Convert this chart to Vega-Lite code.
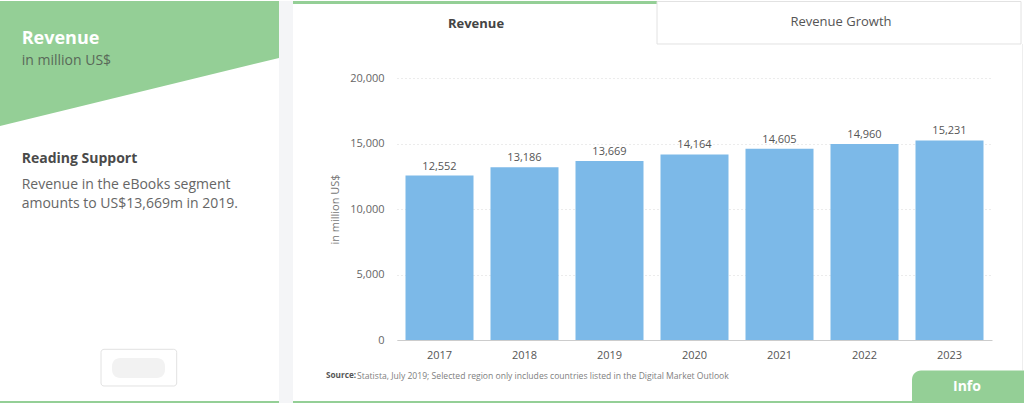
{
  "$schema": "https://vega.github.io/schema/vega-lite/v6.json",
  "background": "white",
  "padding": 0,
  "spacing": 0,
  "config": {"view": {"stroke": null}, "font": "Open Sans"},
  "hconcat": [
    {
      "width": 293,
      "height": 262,
      "data": {"values": [{}]},
      "layer": [
        {"mark": {"type": "rect", "color": "#f4f5f7"},
         "encoding": {
           "x": {"datum": 95.222, "type": "quantitative", "scale": {"domain": [0, 100], "nice": false, "zero": false}, "axis": null},
           "x2": {"datum": 100},
           "y": {"datum": 0, "type": "quantitative", "scale": {"domain": [19.107, 84.119], "nice": false, "zero": false, "reverse": true}, "axis": null},
           "y2": {"datum": 100}}},
        {"mark": {"type": "rect", "color": "white"},
         "encoding": {
           "x": {"datum": 0, "type": "quantitative", "scale": {"domain": [0, 100], "nice": false, "zero": false}, "axis": null},
           "x2": {"datum": 95.222},
           "y": {"datum": 0, "type": "quantitative", "scale": {"domain": [19.107, 84.119], "nice": false, "zero": false, "reverse": true}, "axis": null},
           "y2": {"datum": 99.256}}},
        {"mark": {"type": "point", "shape": "M-139.5,-200L139.5,-200L139.5,-143L-139.5,-75Z", "size": 4, "filled": true, "color": "#94cf96", "opacity": 1, "strokeWidth": 0},
         "encoding": {
           "x": {"datum": 47.611, "type": "quantitative", "scale": {"domain": [0, 100], "nice": false, "zero": false}, "axis": null},
           "y": {"datum": 49.628, "type": "quantitative", "scale": {"domain": [19.107, 84.119], "nice": false, "zero": false, "reverse": true}, "axis": null}}},
        {"mark": {"type": "rect", "color": "#94cf96"},
         "encoding": {
           "x": {"datum": 0, "type": "quantitative", "scale": {"domain": [0, 100], "nice": false, "zero": false}, "axis": null},
           "x2": {"datum": 95.222},
           "y": {"datum": 99.256, "type": "quantitative", "scale": {"domain": [19.107, 84.119], "nice": false, "zero": false, "reverse": true}, "axis": null},
           "y2": {"datum": 100}}},
        {"mark": {"type": "text", "text": "Revenue", "align": "left", "baseline": "alphabetic", "fontSize": 18, "fontWeight": "bold", "color": "white"},
         "encoding": {
           "x": {"datum": 7.4, "type": "quantitative", "scale": {"domain": [0, 100], "nice": false, "zero": false}, "axis": null},
           "y": {"datum": 10.67, "type": "quantitative", "scale": {"domain": [19.107, 84.119], "nice": false, "zero": false, "reverse": true}, "axis": null}}},
        {"mark": {"type": "text", "text": "in million US$", "align": "left", "baseline": "alphabetic", "fontSize": 14, "color": "#596959"},
         "encoding": {
           "x": {"datum": 7.4, "type": "quantitative", "scale": {"domain": [0, 100], "nice": false, "zero": false}, "axis": null},
           "y": {"datum": 15.881, "type": "quantitative", "scale": {"domain": [19.107, 84.119], "nice": false, "zero": false, "reverse": true}, "axis": null}}},
        {"mark": {"type": "text", "text": "Reading Support", "align": "left", "baseline": "alphabetic", "fontSize": 14, "fontWeight": "bold", "color": "#4a4a4a"},
         "encoding": {
           "x": {"datum": 7.4, "type": "quantitative", "scale": {"domain": [0, 100], "nice": false, "zero": false}, "axis": null},
           "y": {"datum": 40.199, "type": "quantitative", "scale": {"domain": [19.107, 84.119], "nice": false, "zero": false, "reverse": true}, "axis": null}}},
        {"mark": {"type": "text", "text": ["Revenue in the eBooks segment", "amounts to US$13,669m in 2019."], "lineHeight": 19, "align": "left", "baseline": "alphabetic", "fontSize": 14, "color": "#666666"},
         "encoding": {
           "x": {"datum": 7.4, "type": "quantitative", "scale": {"domain": [0, 100], "nice": false, "zero": false}, "axis": null},
           "y": {"datum": 46.65, "type": "quantitative", "scale": {"domain": [19.107, 84.119], "nice": false, "zero": false, "reverse": true}, "axis": null}}},
        {"mark": {"type": "rect", "fill": "white", "stroke": "#e2e2e2", "strokeWidth": 1, "cornerRadius": 3},
         "encoding": {
           "x": {"datum": 34.471, "type": "quantitative", "scale": {"domain": [0, 100], "nice": false, "zero": false}, "axis": null},
           "x2": {"datum": 60.307},
           "y": {"datum": 86.427, "type": "quantitative", "scale": {"domain": [19.107, 84.119], "nice": false, "zero": false, "reverse": true}, "axis": null},
           "y2": {"datum": 95.533}}},
        {"mark": {"type": "rect", "color": "#f1f1f1", "cornerRadius": 8, "opacity": 0.9},
         "encoding": {
           "x": {"datum": 38.225, "type": "quantitative", "scale": {"domain": [0, 100], "nice": false, "zero": false}, "axis": null},
           "x2": {"datum": 56.314},
           "y": {"datum": 88.586, "type": "quantitative", "scale": {"domain": [19.107, 84.119], "nice": false, "zero": false, "reverse": true}, "axis": null},
           "y2": {"datum": 93.548}}}
      ]
    },
    {
      "width": 595,
      "height": 262,
      "layer": [
        {
          "data": {"values": [{}]},
          "layer": [
            {"mark": {"type": "rect", "color": "#94cf96"},
             "encoding": {
               "x": {"datum": 0, "type": "quantitative", "scale": {"domain": [14.227, 95.622], "nice": false, "zero": false}, "axis": null},
               "x2": {"datum": 49.795},
               "y": {"datum": 0, "type": "quantitative", "scale": {"domain": [19.107, 84.119], "nice": false, "zero": false, "reverse": true}, "axis": null},
               "y2": {"datum": 0.744}}},
            {"mark": {"type": "rect", "fill": "white", "stroke": "#e2e2e2", "strokeWidth": 1},
             "encoding": {
               "x": {"datum": 49.795, "type": "quantitative", "scale": {"domain": [14.227, 95.622], "nice": false, "zero": false}, "axis": null},
               "x2": {"datum": 99.59},
               "y": {"datum": 0.124, "type": "quantitative", "scale": {"domain": [19.107, 84.119], "nice": false, "zero": false, "reverse": true}, "axis": null},
               "y2": {"datum": 10.67}}},
            {"mark": {"type": "rect", "color": "#eeeeee"},
             "encoding": {
               "x": {"datum": 99.726, "type": "quantitative", "scale": {"domain": [14.227, 95.622], "nice": false, "zero": false}, "axis": null},
               "x2": {"datum": 99.863},
               "y": {"datum": 10.67, "type": "quantitative", "scale": {"domain": [19.107, 84.119], "nice": false, "zero": false, "reverse": true}, "axis": null},
               "y2": {"datum": 91.687}}},
            {"mark": {"type": "text", "text": "Revenue", "align": "center", "baseline": "middle", "fontSize": 13, "fontWeight": "bold", "color": "#444444"},
             "encoding": {
               "x": {"datum": 25.034, "type": "quantitative", "scale": {"domain": [14.227, 95.622], "nice": false, "zero": false}, "axis": null},
               "y": {"datum": 5.707, "type": "quantitative", "scale": {"domain": [19.107, 84.119], "nice": false, "zero": false, "reverse": true}, "axis": null}}},
            {"mark": {"type": "text", "text": "Revenue Growth", "align": "center", "baseline": "middle", "fontSize": 13, "color": "#555555"},
             "encoding": {
               "x": {"datum": 74.966, "type": "quantitative", "scale": {"domain": [14.227, 95.622], "nice": false, "zero": false}, "axis": null},
               "y": {"datum": 5.211, "type": "quantitative", "scale": {"domain": [19.107, 84.119], "nice": false, "zero": false, "reverse": true}, "axis": null}}},
            {"mark": {"type": "text", "text": "Source:", "align": "left", "baseline": "middle", "fontSize": 8.2, "fontWeight": "bold", "color": "#555555"},
             "encoding": {
               "x": {"datum": 4.514, "type": "quantitative", "scale": {"domain": [14.227, 95.622], "nice": false, "zero": false}, "axis": null},
               "y": {"datum": 93.052, "type": "quantitative", "scale": {"domain": [19.107, 84.119], "nice": false, "zero": false, "reverse": true}, "axis": null}}},
            {"mark": {"type": "text", "text": "Statista, July 2019; Selected region only includes countries listed in the Digital Market Outlook", "align": "left", "baseline": "middle", "fontSize": 8.6, "color": "#808080"},
             "encoding": {
               "x": {"datum": 8.755, "type": "quantitative", "scale": {"domain": [14.227, 95.622], "nice": false, "zero": false}, "axis": null},
               "y": {"datum": 93.052, "type": "quantitative", "scale": {"domain": [19.107, 84.119], "nice": false, "zero": false, "reverse": true}, "axis": null}}},
            {"mark": {"type": "rect", "color": "#94cf96"},
             "encoding": {
               "x": {"datum": 0, "type": "quantitative", "scale": {"domain": [14.227, 95.622], "nice": false, "zero": false}, "axis": null},
               "x2": {"datum": 84.679},
               "y": {"datum": 99.256, "type": "quantitative", "scale": {"domain": [19.107, 84.119], "nice": false, "zero": false, "reverse": true}, "axis": null},
               "y2": {"datum": 100}}},
            {"mark": {"type": "rect", "color": "#94cf96", "cornerRadiusTopLeft": 9},
             "encoding": {
               "x": {"datum": 84.679, "type": "quantitative", "scale": {"domain": [14.227, 95.622], "nice": false, "zero": false}, "axis": null},
               "x2": {"datum": 100},
               "y": {"datum": 91.687, "type": "quantitative", "scale": {"domain": [19.107, 84.119], "nice": false, "zero": false, "reverse": true}, "axis": null},
               "y2": {"datum": 100}}},
            {"mark": {"type": "text", "text": "Info", "align": "center", "baseline": "middle", "fontSize": 14, "fontWeight": "bold", "color": "white"},
             "encoding": {
               "x": {"datum": 92.202, "type": "quantitative", "scale": {"domain": [14.227, 95.622], "nice": false, "zero": false}, "axis": null},
               "y": {"datum": 95.782, "type": "quantitative", "scale": {"domain": [19.107, 84.119], "nice": false, "zero": false, "reverse": true}, "axis": null}}}
          ]
        },
        {
          "data": {"values": [
            {"year": "2017", "revenue": 12552},
            {"year": "2018", "revenue": 13186},
            {"year": "2019", "revenue": 13669},
            {"year": "2020", "revenue": 14164},
            {"year": "2021", "revenue": 14605},
            {"year": "2022", "revenue": 14960},
            {"year": "2023", "revenue": 15231}
          ]},
          "encoding": {
            "x": {"field": "year", "type": "ordinal",
                  "scale": {"paddingInner": 0.2, "paddingOuter": 0.1},
                  "axis": {"title": null, "labelAngle": 0, "ticks": false, "domainColor": "#cccccc", "labelPadding": 9, "labelColor": "#555555", "labelFontSize": 11, "grid": false}},
            "y": {"field": "revenue", "type": "quantitative",
                  "scale": {"domain": [0, 20000], "nice": false},
                  "axis": {"values": [0, 5000, 10000, 15000, 20000], "labelExpr": "format(datum.value, ',')", "title": "in million US$", "ticks": false, "domain": false, "grid": true, "gridColor": "#d9d9d9", "gridDash": [1, 3], "labelPadding": 13, "labelColor": "#666666", "labelFontSize": 11, "titleFontSize": 11, "titleFontWeight": "normal", "titleColor": "#777777", "titlePadding": 9}}
          },
          "layer": [
            {"mark": {"type": "bar", "color": "#7cb9e8"}},
            {"mark": {"type": "text", "baseline": "alphabetic", "dy": -6, "fontSize": 11, "color": "#555555"},
             "encoding": {"text": {"field": "revenue", "type": "quantitative", "format": ","}}}
          ]
        }
      ],
      "resolve": {"scale": {"x": "independent", "y": "independent"}}
    }
  ]
}
